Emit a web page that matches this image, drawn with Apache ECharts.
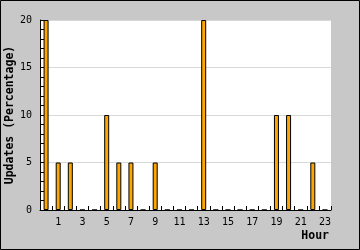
<!DOCTYPE html>
<html><head><meta charset="utf-8">
<script src="https://cdn.jsdelivr.net/npm/echarts@6/dist/echarts.min.js"></script>
<style>html,body{margin:0;padding:0;background:#c8c8c8}#c{width:360px;height:250px}</style>
</head><body><div id="c"></div>
<script>
var hours = ['0','1','2','3','4','5','6','7','8','9','10','11','12','13','14','15','16','17','18','19','20','21','22','23'];
var updates = [20,5,5,0,0,10,5,5,0,5,0,0,0,20,0,0,0,0,0,10,10,0,5,0];
var yTicks = [0,5,10,15,20];
var yTitle = 'Updates (Percentage)';
var xTitle = 'Hour';

var font = 'DejaVu Sans Mono';
var chart = echarts.init(document.getElementById('c'), null, {renderer:'canvas'});
chart.setOption({
  backgroundColor:'#c8c8c8',
  animation:false,
  grid:{left:40,right:29,top:20,bottom:40,show:true,backgroundColor:'#ffffff',borderWidth:0,containLabel:false,outerBoundsMode:'none'},
  xAxis:{
    type:'category', data:hours, boundaryGap:true,
    axisLine:{lineStyle:{color:'#000',width:1}},
    axisTick:{show:true,inside:true,length:4,interval:0,alignWithLabel:false,lineStyle:{color:'#000'}},
    axisLabel:{interval:function(i){return i%2===1;},color:'#000',fontFamily:font,fontSize:10,margin:7}
  },
  yAxis:{
    type:'value', min:yTicks[0], max:yTicks[yTicks.length-1], interval:5,
    name:yTitle, nameLocation:'middle', nameGap:30, nameRotate:90, nameMoveOverlap:false,
    nameTextStyle:{fontFamily:font,fontWeight:'bold',fontSize:11.5,color:'#000',verticalAlign:'middle',padding:[0,0,0,0]},
    axisLine:{show:true,lineStyle:{color:'#000',width:1}},
    axisTick:{show:true,inside:true,length:4,lineStyle:{color:'#000'}},
    minorTick:{show:true,splitNumber:5,length:4,lineStyle:{color:'#000'}},
    axisLabel:{color:'#000',fontFamily:font,fontSize:10,margin:8},
    splitLine:{show:true,lineStyle:{color:'#d8d8d8',width:1}}
  },
  graphic:[
    {type:'text',right:31,top:230,style:{text:xTitle,font:'bold 11.5px "DejaVu Sans Mono"',fill:'#000'}},
    {type:'rect',silent:true,z:100,shape:{x:0.5,y:0.5,width:359,height:249},style:{fill:'none',stroke:'#000',lineWidth:1}}
  ],
  series:[{
    type:'bar', data:updates, barWidth:5,
    itemStyle:{color:'#ffa500',borderColor:'#000',borderWidth:1}
  }]
});
</script></body></html>
